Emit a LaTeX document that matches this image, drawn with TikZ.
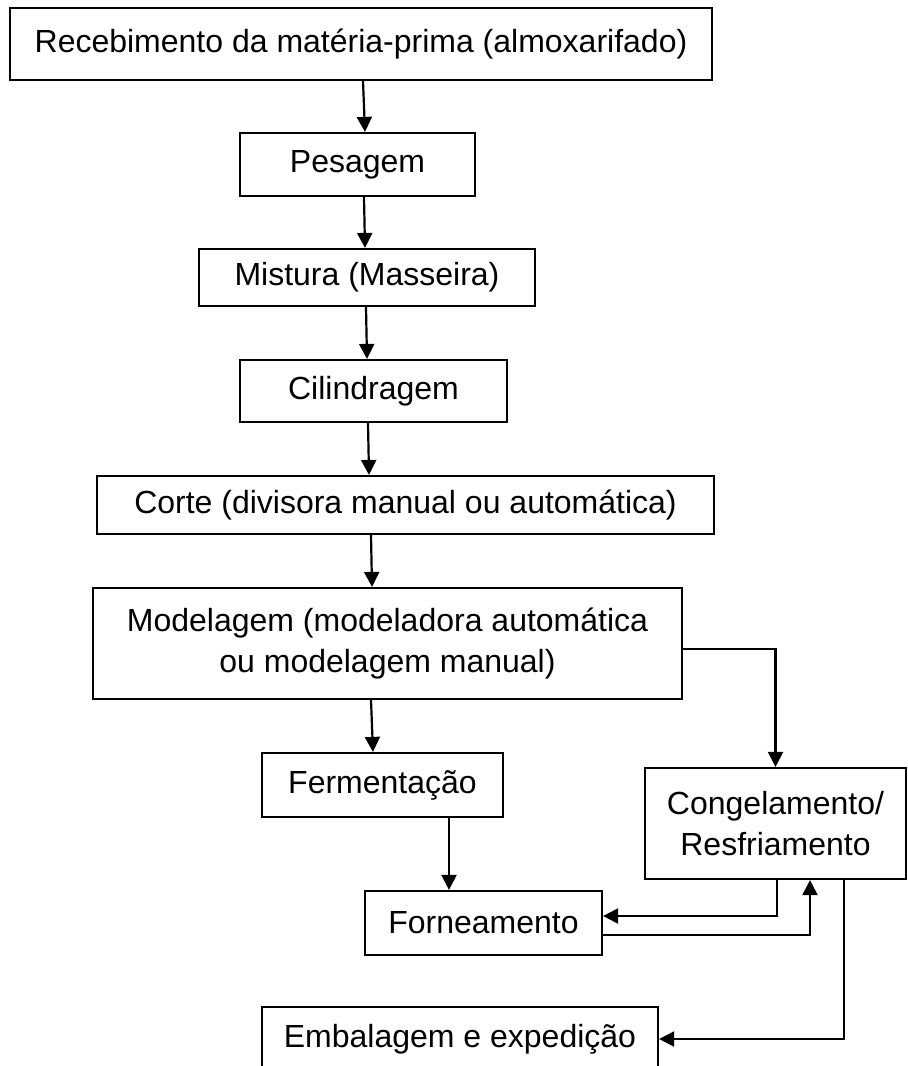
\documentclass[tikz,border=0pt]{standalone}
\usepackage{fontspec}
\setmainfont{Liberation Sans}
\usetikzlibrary{arrows.meta}

\begin{document}
\begin{tikzpicture}[x=0.5pt, y=-0.5pt,
        box/.style={draw, line width=1.1pt, inner sep=0pt, align=center, font=\fontsize{16}{20.5}\selectfont},
        arr/.style={line width=1.1pt, -{Triangle[length=7.5pt, width=7.5pt]}}]
        \useasboundingbox (0, 0) rectangle (908, 1066);
        \clip (0, 0) rectangle (908, 1066);

        \node[box, minimum width=351pt, minimum height=36pt] (rec) at (361, 44) {Recebimento da matéria-prima (almoxarifado)};
        \node[box, minimum width=117.5pt, minimum height=31.5pt] (pes) at (357.5, 164.5) {Pesagem};
        \node[box, minimum width=168pt, minimum height=28.5pt] (mis) at (367, 277.5) {Mistura (Masseira)};
        \node[box, minimum width=133.5pt, minimum height=31pt] (cil) at (373.5, 391) {Cilindragem};
        \node[box, minimum width=308.5pt, minimum height=29pt] (cor) at (405.5, 505) {Corte (divisora manual ou automática)};
        \node[box, minimum width=294.5pt, minimum height=55.5pt] (mod) at (387.5, 643.5) {Modelagem (modeladora automática\\ou modelagem manual)};
        \node[box, minimum width=120.5pt, minimum height=32pt] (fer) at (382.5, 785) {Fermentação};
        \node[box, minimum width=130.5pt, minimum height=55.5pt] (con) at (775.5, 823.5) {Congelamento/\\Resfriamento};
        \node[box, minimum width=118.5pt, minimum height=32pt] (for) at (483.5, 923) {Forneamento};
        \node[box, minimum width=198pt, minimum height=32pt] (emb) at (460, 1039) {Embalagem e expedição};

        \draw[arr] (rec.south -| 363,0) -- (pes.north -| 365,0);
        \draw[arr] (pes.south -| 364,0) -- (mis.north -| 365,0);
        \draw[arr] (mis.south -| 366,0) -- (cil.north -| 367,0);
        \draw[arr] (cil.south -| 368,0) -- (cor.north -| 369,0);
        \draw[arr] (cor.south -| 371,0) -- (mod.north -| 372,0);
        \draw[arr] (mod.south -| 371,0) -- (fer.north -| 373,0);
        \draw[arr] (fer.south -| 449,0) -- (for.north -| 449,0);
        \draw[arr] ([yshift=-2.75pt]mod.east) -| (con.north);
        \draw[arr] ([xshift=0.75pt]con.south) |- ([yshift=3.5pt]for.east);
        \draw[arr] ([yshift=-6pt]for.east) -| ([xshift=17.25pt]con.south);
        \draw[arr] ([xshift=34.25pt]con.south) |- (emb.east);
    \end{tikzpicture}
\end{document}
